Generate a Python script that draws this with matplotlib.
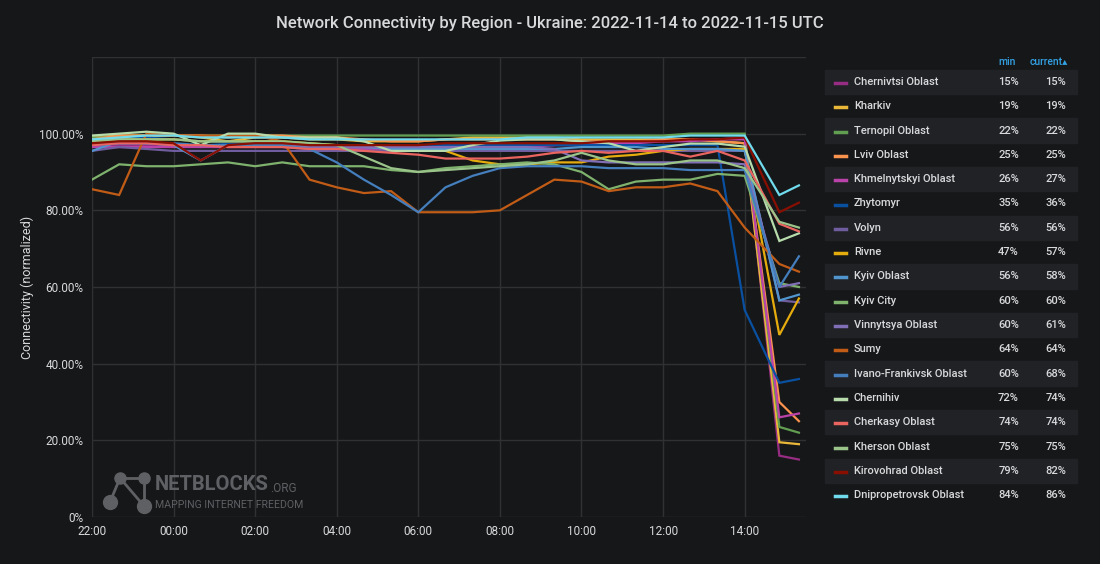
import numpy as np
import matplotlib.pyplot as plt
from matplotlib.patches import Rectangle
from matplotlib.lines import Line2D

plt.rcParams['font.family'] = ['Roboto', 'DejaVu Sans']

# sample times, hours after 22:00 (40 min steps up to 14:00, then two late samples)
hours = [k * 40 / 60 for k in range(25)] + [16.85, 17.33]
tick_hours = [0, 2, 4, 6, 8, 10, 12, 14, 16]
tick_labels = ['22:00', '00:00', '02:00', '04:00', '06:00', '08:00', '10:00', '12:00', '14:00']

regions = ['Chernivtsi Oblast', 'Kharkiv', 'Ternopil Oblast', 'Lviv Oblast', 'Khmelnytskyi Oblast',
           'Zhytomyr', 'Volyn', 'Rivne', 'Kyiv Oblast', 'Kyiv City', 'Vinnytsya Oblast', 'Sumy',
           'Ivano-Frankivsk Oblast', 'Chernihiv', 'Cherkasy Oblast', 'Kherson Oblast',
           'Kirovohrad Oblast', 'Dnipropetrovsk Oblast']
min_vals = [15, 19, 22, 25, 26, 35, 56, 47, 56, 60, 60, 64, 60, 72, 74, 75, 79, 84]
cur_vals = [15, 19, 22, 25, 27, 36, 56, 57, 58, 60, 61, 64, 68, 74, 74, 75, 82, 86]
colors = ['#962D82', '#EAB839', '#629E51', '#F9934E', '#BA43A9', '#0A50A1', '#705DA0', '#E5AC0E',
          '#5195CE', '#7EB26D', '#806EB7', '#C15C17', '#447EBC', '#B7DBAB', '#EA6460', '#9AC48A',
          '#890F02', '#70DBED']

chernivtsi = [97, 97, 97, 97, 96.5, 97, 97, 97, 96.5, 96.5, 96, 96, 96, 96.5, 97, 97, 97, 97, 97.5, 97.5, 98, 98, 98.5, 98.5, 99, 16, 15]
kharkiv = [99, 99.5, 99.5, 99.5, 99, 98, 99, 99, 98.5, 98.5, 98, 98, 98, 98.5, 99, 99, 99, 99, 98.5, 98.5, 98.5, 98.5, 98.5, 98, 97.5, 19.5, 19]
ternopil = [99, 99, 99.5, 99.5, 99.5, 99.5, 99.5, 99.5, 99.5, 99.5, 99.5, 99.5, 99.5, 99.5, 99.5, 99.5, 99.5, 99.5, 99.5, 99.5, 99.5, 99.5, 100, 100, 100, 23.5, 22]
lviv = [98.5, 99.5, 99.5, 99.5, 99.5, 99, 99.5, 99.5, 99, 99, 98.5, 98, 98, 98.5, 98.5, 98.5, 98.5, 98.5, 98, 98, 98, 98.5, 98.5, 98, 97.5, 30, 25]
khmelnytskyi = [96.5, 96.5, 96.5, 96.5, 96.5, 96.5, 96.5, 96.5, 96, 96, 96, 96, 96, 96, 96.5, 96.5, 96.5, 97, 97, 97.5, 97.5, 98, 98, 98.5, 98.5, 26, 27]
zhytomyr = [98, 98.5, 99, 98.5, 98, 97.5, 97.5, 97.5, 97, 97, 97, 97, 97, 97, 97, 97, 97, 97, 97, 97, 97, 97, 97, 97, 54, 35, 36]
volyn = [95.5, 96.5, 96, 95.5, 95.5, 95.5, 95.5, 95.5, 95.5, 95.5, 95.5, 95.5, 95.5, 95.5, 95.5, 95.5, 95.5, 95.5, 95.5, 95.5, 95.5, 95.5, 95.5, 95.5, 95.5, 56.5, 56]
rivne = [98, 98.5, 98.5, 98.5, 98, 98, 98, 98, 97.5, 97, 97, 96.5, 96, 95.5, 93, 92, 92, 92.5, 92.5, 94, 94.5, 95.5, 96, 96, 96, 47.5, 57]
kyiv_oblast = [95.5, 98, 97.5, 97, 93, 97, 97, 97, 96.5, 96.5, 96.5, 96, 96, 96, 96, 96, 96, 96, 96.5, 96.5, 96.5, 96, 96, 96, 95.5, 56.5, 58]
kyiv_city = [88, 92, 91.5, 91.5, 92, 92.5, 91.5, 92.5, 91.5, 91.5, 91.5, 90.5, 90, 91, 91.5, 92, 92.5, 92, 90, 85.5, 87.5, 88, 88, 89.5, 89, 61, 60]
vinnytsya = [97, 97.5, 97.5, 97, 97, 97, 97, 97, 96.5, 96.5, 96.5, 96.5, 96.5, 96.5, 96.5, 96.5, 96.5, 96, 93, 92.5, 92.5, 92.5, 92.5, 92.5, 92, 60, 61]
sumy = [85.5, 84, 100, 99.5, 99.5, 99.5, 99.5, 98, 88, 86, 84.5, 85, 79.5, 79.5, 79.5, 80, 84, 88, 87.5, 85, 86, 86, 87, 85, 75.5, 66, 64]
ivano_frankivsk = [97, 97.5, 97.5, 97.5, 97, 97, 97, 97, 96, 92.5, 88, 84, 79.5, 86, 89, 91, 91.5, 91.5, 91.5, 91, 91, 91, 90.5, 90.5, 90.5, 60, 68]
chernihiv = [99.5, 100, 100.5, 100, 97, 100, 100, 99, 99, 99, 98, 95.5, 95.5, 95.5, 97, 98.2, 98.5, 98.5, 98, 97.5, 95.5, 96.5, 97.4, 97.4, 96.6, 72, 74]
cherkasy = [97, 97.5, 97.5, 97, 97, 96.5, 96.5, 96.5, 96, 96, 95.5, 95, 94.5, 93.5, 93.5, 93.5, 94, 95, 95.5, 95, 95.5, 95.5, 94, 95.5, 93, 76.5, 74.5]
kherson = [98, 98.5, 98.5, 98.5, 98, 98, 98, 98, 97.5, 97, 94, 91, 90, 90.5, 91, 91.5, 92, 93, 95, 93, 92, 92, 93, 93, 91, 77, 75.5]
kirovohrad = [97.5, 98, 98, 97.5, 93, 97, 97.5, 97.5, 97, 97, 97, 97, 97, 97.5, 97.5, 97.5, 97.5, 97.5, 97.5, 98, 98, 98, 98.5, 98.5, 99, 79.5, 82]
dnipropetrovsk = [98.5, 99, 99.5, 99.5, 99, 99, 99, 99, 98.5, 98.5, 98.5, 98.5, 98.5, 98.5, 98.5, 98.5, 99, 99, 99, 99, 99, 99, 99.5, 99.5, 99.5, 84, 86.5]

series = [chernivtsi, kharkiv, ternopil, lviv, khmelnytskyi, zhytomyr, volyn, rivne, kyiv_oblast,
          kyiv_city, vinnytsya, sumy, ivano_frankivsk, chernihiv, cherkasy, kherson, kirovohrad,
          dnipropetrovsk]

bg = '#161719'
text_col = '#d8d9da'

fig = plt.figure(figsize=(11, 5.64), dpi=100, facecolor=bg)
ax = fig.add_axes([0.0836, 0.0833, 0.649, 0.8157], facecolor=bg)

for vals, col in zip(series, colors):
    ax.plot(hours, vals, color=col, lw=1.6, solid_joinstyle='miter')

ax.set_xlim(0, 17.5)
ax.set_ylim(0, 120)
ax.set_xticks(tick_hours)
ax.set_xticklabels(tick_labels)
ax.set_yticks([0, 20, 40, 60, 80, 100, 120])
ax.set_yticklabels(['0%', '20.00%', '40.00%', '60.00%', '80.00%', '100.00%', ''])
ax.tick_params(colors=text_col, labelsize=8.5, length=0, pad=6)
ax.grid(True, color='#303133', lw=1)
ax.set_axisbelow(True)
for s in ax.spines.values():
    s.set_visible(False)
ax.set_ylabel('Connectivity (normalized)', color=text_col, fontsize=9, labelpad=4)

fig.text(0.5, 0.958, 'Network Connectivity by Region - Ukraine: 2022-11-14 to 2022-11-15 UTC',
         ha='center', va='center', color=text_col, fontsize=12, fontweight='medium')

# watermark logo
wm = '#5f6063'
px = lambda x, y: (x / 1100, 1 - y / 564)
node_x = [120, 144, 110, 144]
node_y = [478, 478, 502, 506]
for (a, b) in [(0, 1), (0, 2), (0, 3), (1, 3)]:
    fig.lines.append(Line2D([node_x[a] / 1100, node_x[b] / 1100],
                            [1 - node_y[a] / 564, 1 - node_y[b] / 564],
                            transform=fig.transFigure, color=wm, lw=2))
for i, (nx, ny) in enumerate(zip(node_x, node_y)):
    fig.lines.append(Line2D([nx / 1100], [1 - ny / 564], transform=fig.transFigure,
                            marker='o', ms=10 if i >= 2 else 8, color=wm, lw=0))
fig.text(*px(155, 484), 'NETBLOCKS', color=wm, fontsize=14.5, fontweight='bold',
         va='center', ha='left')
fig.text(*px(270, 489), '.ORG', color=wm, fontsize=8.5, va='center', ha='left')
fig.text(*px(155, 505), 'MAPPING INTERNET FREEDOM', color=wm, fontsize=7.6,
         va='center', ha='left')

# legend table
hdr = '#33a2e5'
fig.text(1016 / 1100, 1 - 62 / 564, 'min', color=hdr, fontsize=7.5, ha='right', va='center',
         fontweight='medium')
fig.text(1068 / 1100, 1 - 62 / 564, 'current\u25b4', color=hdr, fontsize=7.5, ha='right', va='center',
         fontweight='medium')
row_h = 24.3
for i, (name, mn, cur, col) in enumerate(zip(regions, min_vals, cur_vals, colors)):
    yc = 82 + i * row_h
    if i % 2 == 0:
        fig.patches.append(Rectangle((825 / 1100, 1 - (yc + row_h / 2) / 564), 252 / 1100, row_h / 564,
                                     transform=fig.transFigure, color='#202226', zorder=0))
    fig.lines.append(Line2D([835 / 1100, 846 / 1100], [1 - (yc + 1) / 564] * 2,
                            transform=fig.transFigure, color=col, lw=2.5))
    fig.text(854 / 1100, 1 - yc / 564, name, color=text_col, fontsize=8, va='center', ha='left',
             fontweight='medium')
    fig.text(1019 / 1100, 1 - yc / 564, f'{mn}%', color=text_col, fontsize=8, va='center', ha='right',
             fontweight='medium')
    fig.text(1066 / 1100, 1 - yc / 564, f'{cur}%', color=text_col, fontsize=8, va='center', ha='right',
             fontweight='medium')

fig.savefig('out.png', dpi=100, facecolor=bg)
